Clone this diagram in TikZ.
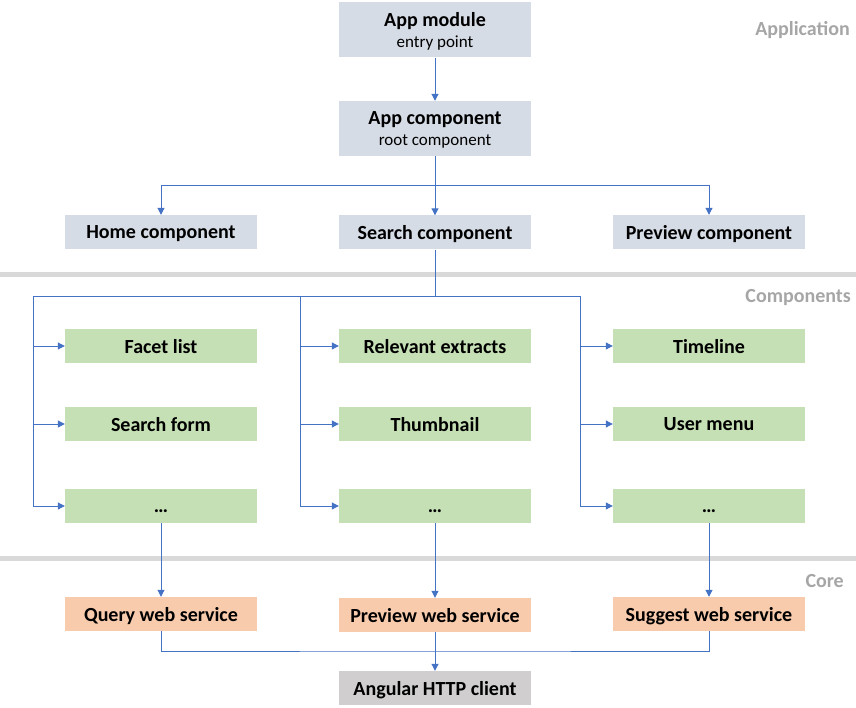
\documentclass[tikz,border=0pt]{standalone}
\usepackage{fontspec}
\setmainfont{Carlito}
\usetikzlibrary{arrows.meta, positioning}

\definecolor{appfill}{HTML}{D6DCE5}
\definecolor{compfill}{HTML}{C5E0B4}
\definecolor{corefill}{HTML}{F8CBAD}
\definecolor{httpfill}{HTML}{D0CECE}
\definecolor{linkblue}{HTML}{4472C4}
\definecolor{sepgray}{HTML}{D9D9D9}
\definecolor{labelgray}{HTML}{A6A6A6}

\begin{document}
\begin{tikzpicture}[x=1pt, y=-1pt,
    box/.style={minimum width=192pt, minimum height=34pt, inner sep=0pt,
      text depth=0pt, font=\fontsize{20}{22}\selectfont\bfseries},
    appbox/.style={box, fill=appfill},
    compbox/.style={box, fill=compfill},
    corebox/.style={box, fill=corefill},
    link/.style={draw=linkblue, line width=1pt},
    arr/.style={link, -{Triangle[width=7pt, length=7pt]}},
    layer/.style={anchor=east, text=labelgray, inner sep=0pt,
      font=\fontsize{20}{23}\selectfont\bfseries},
    sep/.style={draw=sepgray, line width=5pt}]
  \useasboundingbox (0,0) rectangle (856,708);

  % layer separators
  \draw[sep] (0,274.5) -- (856,274.5);
  \draw[sep] (0,558.5) -- (856,558.5);

  % layer names
  \node[layer] (lapp) at (850,30) {Application};
  \node[layer] (lcomp) at (851,298) {Components};
  \node[layer] (lcore) at (844,581) {Core};

  % application
  \node[appbox, minimum height=55pt, align=center] (module) at (435,30)
    {App module\\[-1pt]{\mdseries\fontsize{17}{19}\selectfont entry point}};
  \node[appbox, minimum height=55pt, align=center] (appcomp) at (435,128.5)
    {App component\\[-1pt]{\mdseries\fontsize{17}{19}\selectfont root component}};
  \node[appbox] (home) at (161,232) {Home component};
  \node[appbox] (search) at (435,232.5) {Search component};
  \node[appbox] (preview) at (709,232) {Preview component};

  \draw[arr] (module) -- (appcomp);
  \coordinate (fork) at (435,186);
  \draw[link] (appcomp) -- (fork);
  \draw[arr] (fork) -| (home);
  \draw[arr] (fork) -- (search);
  \draw[arr] (fork) -| (preview);

  % components
  \coordinate (bus) at (435,296.5);
  \coordinate (busA) at (33,296.5);
  \coordinate (busC) at (580,296.5);
  \draw[link] (search) -- (bus);
  \draw[link] (busA) -- (busC);
  \foreach \x/\bx/\na/\ta/\nb/\tb/\nc in {
      161/33/facet/Facet list/form/Search form/moreA,
      435/300/extracts/Relevant extracts/thumb/Thumbnail/moreB,
      709/580/timeline/Timeline/menu/User menu/moreC} {
    \node[compbox] (\na) at (\x,346) {\ta};
    \node[compbox] (\nb) at (\x,424) {\tb};
    \node[compbox] (\nc) at (\x,506) {\vphantom{A}\dots};
    \coordinate (top\nc) at (\bx,296.5);
    \draw[arr] (top\nc) |- (\na);
    \draw[arr] (top\nc) |- (\nb);
    \draw[arr] (top\nc) |- (\nc);
  }

  % core
  \node[corebox] (query) at (161,614) {Query web service};
  \node[corebox] (previewws) at (435,615) {Preview web service};
  \node[corebox] (suggest) at (709,614) {Suggest web service};
  \node[box, fill=httpfill] (http) at (435,688) {Angular HTTP client};

  \draw[arr] (moreA) -- (query);
  \draw[arr] (moreB) -- (previewws);
  \draw[arr] (moreC) -- (suggest);

  \coordinate (join) at (435,651);
  \draw[link] (query) |- (join) -| (suggest);
  \draw[arr] (previewws) -- (http);
\end{tikzpicture}
\end{document}
